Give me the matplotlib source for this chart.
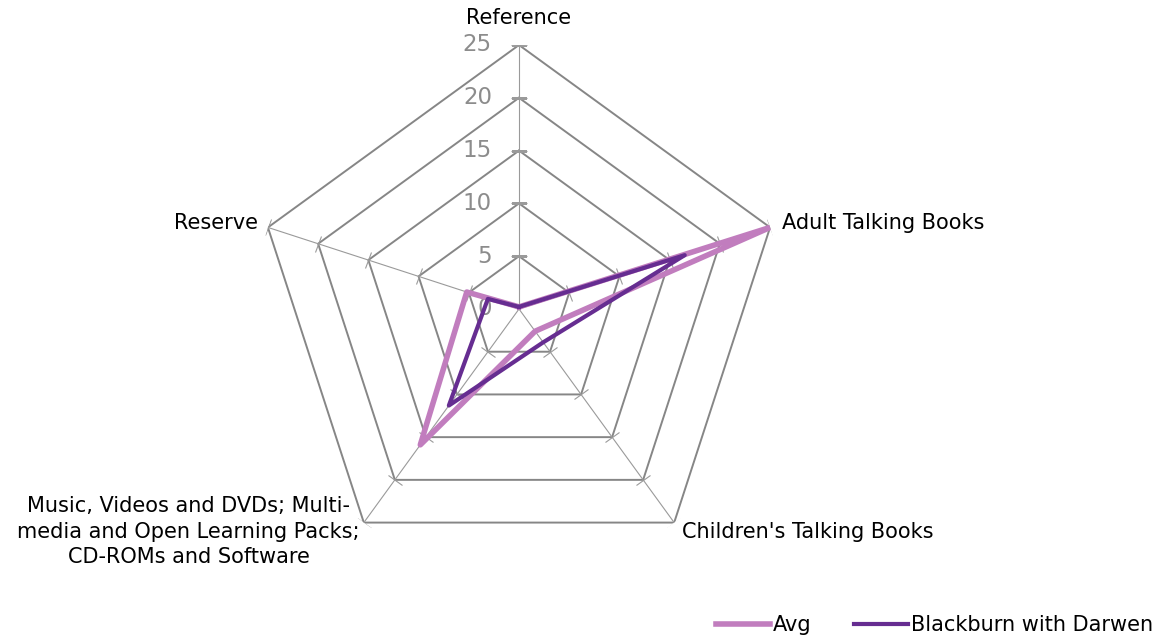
import numpy as np
import matplotlib
matplotlib.use("Agg")
import matplotlib.pyplot as plt
from matplotlib.markers import MarkerStyle
from matplotlib.transforms import Affine2D

categories = ["Reference", "Adult Talking Books", "Children's Talking Books",
              "Music, Videos and DVDs; Multi-\nmedia and Open Learning Packs;\nCD-ROMs and Software",
              "Reserve"]
avg = [0.2, 25.0, 2.6, 15.9, 5.2]
blackburn = [0.2, 16.5, 3.9, 11.3, 3.1]
r_ticks = [0, 5, 10, 15, 20, 25]

avg_color = "#C17DBE"
bwd_color = "#662D91"
grid_color = "#868686"

fig = plt.figure(figsize=(11.71, 6.39), dpi=100)
ax = fig.add_axes([255 / 1171, 66 / 639, 528 / 1171, 528 / 639], projection="polar")
ax.set_theta_zero_location("N")
ax.set_theta_direction(-1)
ax.set_ylim(0, 25)
ax.grid(False)
ax.set_xticks([])
ax.set_yticks([])
ax.spines["polar"].set_visible(False)
ax.patch.set_visible(False)

n = len(categories)
theta = np.arange(n) * 2 * np.pi / n
theta_closed = np.append(theta, theta[0])

# polygon gridlines
for r in r_ticks[1:]:
    ax.plot(theta_closed, [r] * (n + 1), color=grid_color, lw=1.4, zorder=1)

# spokes with small ticks
for th in theta:
    ax.plot([th, th], [0, r_ticks[-1]], color="#9a9a9a", lw=0.8, zorder=1)
    ang = 180 - np.degrees(th)
    mk = MarkerStyle("_", transform=Affine2D().rotate_deg(ang))
    ax.plot([th] * (len(r_ticks) - 1), r_ticks[1:], ls="none", marker=mk,
            markersize=12, markeredgecolor="#9a9a9a", markeredgewidth=0.8, zorder=1)

# radial labels
for r in r_ticks:
    ax.annotate(str(r), xy=(0, r), xytext=(-27, 0), textcoords="offset pixels",
                ha="right", va="center", fontsize=16.5, color="#8c8c8c")

# category labels
offsets = [(0, 27, "center"), (12, 4, "left"), (8, -9, "left"), (-4, -9, "right"), (-10, 4, "right")]
for th, lab, (dx, dy, ha) in zip(theta, categories, offsets):
    ax.annotate(lab, xy=(th, r_ticks[-1]), xytext=(dx, dy), textcoords="offset pixels",
                ha=ha, va="center", multialignment="center", linespacing=1.35,
                fontsize=15, color="black", annotation_clip=False)

ax.plot(theta_closed, avg + avg[:1], color=avg_color, lw=4, label="Avg", zorder=3)
ax.plot(theta_closed, blackburn + blackburn[:1], color=bwd_color, lw=3,
        label="Blackburn with Darwen", zorder=4)

fig.legend(loc="center", bbox_to_anchor=(0.798, 0.022), ncol=2, frameon=False,
           fontsize=15, handlelength=2.6, handletextpad=0.15, columnspacing=2.0)

fig.savefig("out.png", dpi=100)
